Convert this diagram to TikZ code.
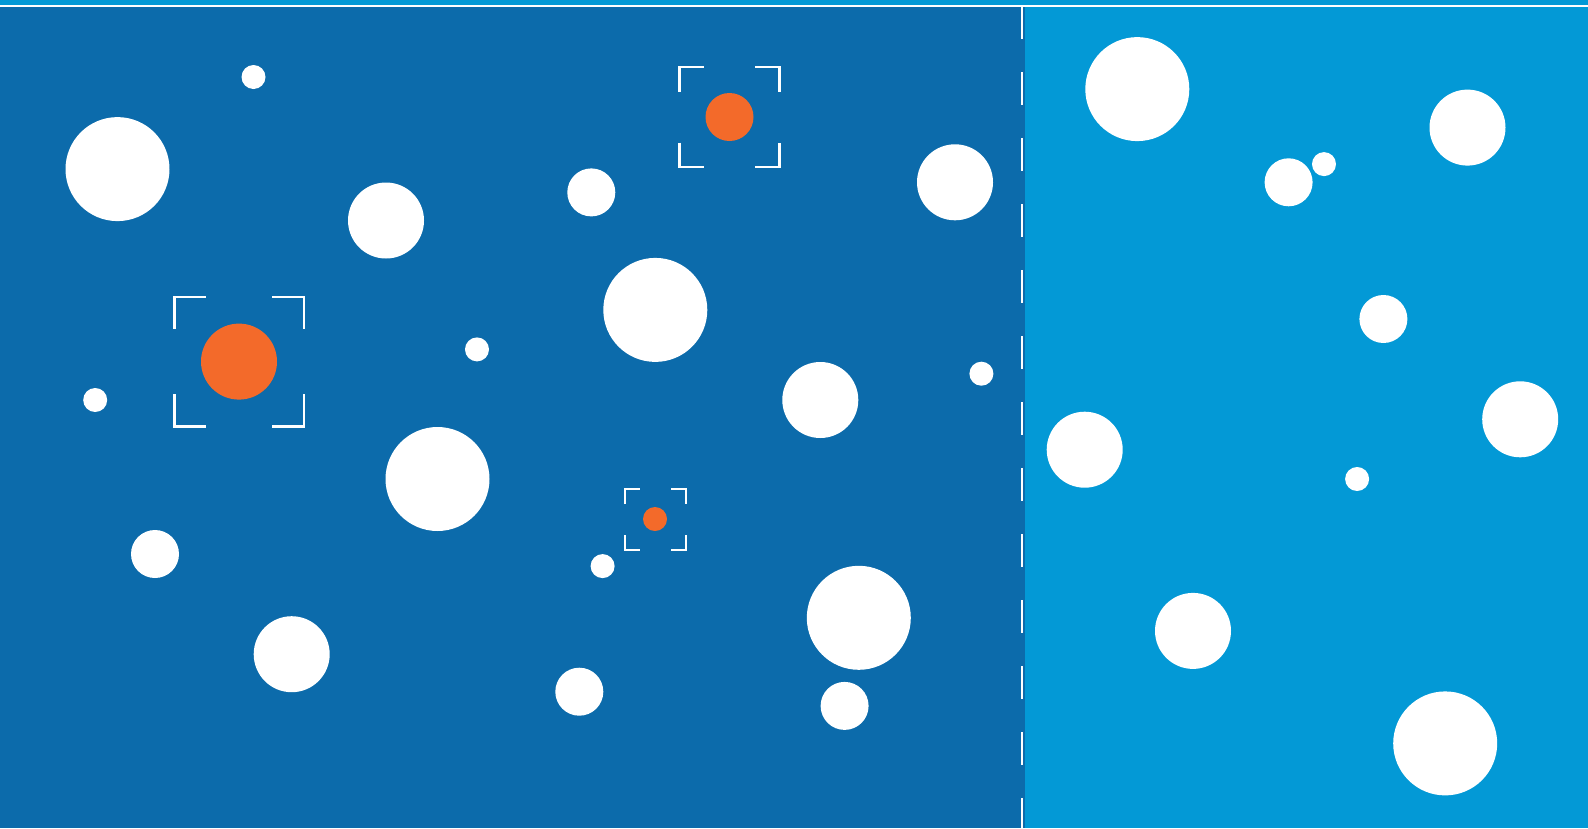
\documentclass[tikz,border=0pt]{standalone}
\definecolor{darkbg}{HTML}{0C6BAB}
\definecolor{lightbg}{HTML}{0399D6}
\definecolor{hot}{HTML}{F36A2A}
\tikzset{
  bub/.style={circle, fill=white, draw=none, inner sep=0pt, outer sep=0pt, minimum size=#1},
  hotbub/.style={circle, fill=hot, draw=none, inner sep=0pt, outer sep=0pt, minimum size=#1},
  brk/.style={draw=white, line width=2.3pt, line cap=butt, line join=miter},
  divider/.style={draw=white, line width=2.3pt, dash pattern=on 33pt off 33pt},
}
\newcommand{\mybracket}[4]{% x, y, half, arm
  \draw[brk] (#1-#3, #2-#3+#4) -- (#1-#3, #2-#3) -- (#1-#3+#4, #2-#3);
  \draw[brk] (#1+#3-#4, #2-#3) -- (#1+#3, #2-#3) -- (#1+#3, #2-#3+#4);
  \draw[brk] (#1-#3, #2+#3-#4) -- (#1-#3, #2+#3) -- (#1-#3+#4, #2+#3);
  \draw[brk] (#1+#3-#4, #2+#3) -- (#1+#3, #2+#3) -- (#1+#3, #2+#3-#4);
}
\begin{document}
\begin{tikzpicture}[x=1pt, y=-1pt]
\useasboundingbox (0,0) rectangle (1588,828);
\fill[lightbg] (0,0) rectangle (1588,828);
\fill[darkbg] (0,7) rectangle (1025,828);
\draw[white, line width=2.6pt] (0,6) -- (1588,6);
\coordinate (divtop) at (1022,6);
\coordinate (divbot) at (1022,830);
\draw[divider] (divtop) -- (divbot);

% left panel bubbles
\node[bub=104pt] (b1) at (117.5,169.1) {};
\node[bub=24pt] (b2) at (253.5,77) {};
\node[bub=76pt] (b3) at (386,220.5) {};
\node[bub=48pt] (b4) at (591.3,192.4) {};
\node[hotbub=48pt] (h1) at (729.5,117) {};
\node[bub=76pt] (b6) at (955,182.3) {};
\node[bub=104pt] (b7) at (655.3,309.9) {};
\node[hotbub=76pt] (h2) at (239,361.6) {};
\node[bub=24pt] (b9) at (477,349.4) {};
\node[bub=24pt] (b10) at (95.2,400) {};
\node[bub=76pt] (b11) at (820.3,400) {};
\node[bub=24pt] (b12) at (981.4,373.7) {};
\node[bub=104pt] (b13) at (437.5,479) {};
\node[hotbub=24pt] (h3) at (655,519) {};
\node[bub=48pt] (b15) at (155,554) {};
\node[bub=24pt] (b16) at (602.6,566.1) {};
\node[bub=104pt] (b17) at (858.8,617.8) {};
\node[bub=76pt] (b18) at (291.7,654.2) {};
\node[bub=48pt] (b19) at (579.3,691.7) {};
\node[bub=48pt] (b20) at (844.6,705.9) {};

% brackets
\mybracket{729.5}{117}{50}{24.5}
\mybracket{239.2}{361.6}{64.8}{32}
\mybracket{655.7}{519.5}{30.5}{15}

% right panel bubbles
\node[bub=104pt] (b21) at (1137.3,89.1) {};
\node[bub=76pt] (b22) at (1467.5,127.6) {};
\node[bub=48pt] (b23) at (1288.6,182.3) {};
\node[bub=24pt] (b24) at (1324,164.1) {};
\node[bub=48pt] (b25) at (1383.4,319) {};
\node[bub=76pt] (b26) at (1520.2,419.3) {};
\node[bub=76pt] (b27) at (1084.7,449.7) {};
\node[bub=24pt] (b28) at (1357.1,479) {};
\node[bub=76pt] (b29) at (1193,630.9) {};
\node[bub=104pt] (b30) at (1445.2,743.4) {};
\end{tikzpicture}
\end{document}
